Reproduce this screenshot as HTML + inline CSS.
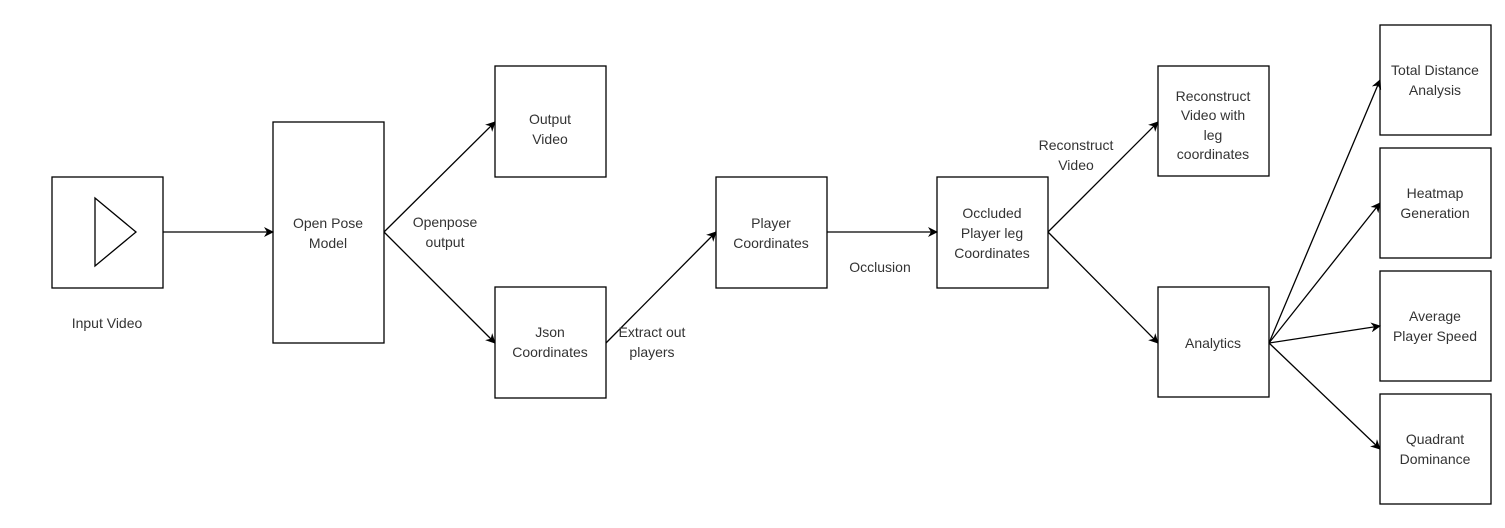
<!DOCTYPE html>
<html><head><style>
html,body{margin:0;padding:0;background:#fff;}
svg{display:block;}
text{font-family:"Liberation Sans",Arial,sans-serif;font-size:14px;fill:#333;text-anchor:middle;}
</style></head><body>
<svg width="1505" height="528" viewBox="0 0 1505 528">
<defs><marker id="a" markerWidth="10" markerHeight="10" refX="9" refY="5" orient="auto" markerUnits="userSpaceOnUse"><path d="M0,0 L10,5 L0,10 L3,5 Z" fill="#000"/></marker></defs>
<g fill="#fff" stroke="#000" stroke-width="1.3">
<rect x="52" y="177" width="111" height="111"/>
<polygon points="95,198 136,232 95,266" fill="none"/>
<rect x="273" y="122" width="111" height="221"/>
<rect x="495" y="66" width="111" height="111"/>
<rect x="495" y="287" width="111" height="111"/>
<rect x="716" y="177" width="111" height="111"/>
<rect x="937" y="177" width="111" height="111"/>
<rect x="1158" y="66" width="111" height="110"/>
<rect x="1158" y="287" width="111" height="110"/>
<rect x="1380" y="25" width="111" height="110"/>
<rect x="1380" y="148" width="111" height="110"/>
<rect x="1380" y="271" width="111" height="110"/>
<rect x="1380" y="394" width="111" height="110"/>
</g>
<g stroke="#000" stroke-width="1.3" fill="none" marker-end="url(#a)">
<line x1="163" y1="232" x2="273" y2="232"/>
<line x1="384" y1="232" x2="495" y2="122"/>
<line x1="384" y1="232" x2="495" y2="343"/>
<line x1="606" y1="343" x2="716" y2="232"/>
<line x1="827" y1="232" x2="937" y2="232"/>
<line x1="1048" y1="232" x2="1158" y2="122"/>
<line x1="1048" y1="232" x2="1158" y2="343"/>
<line x1="1269" y1="343" x2="1380" y2="80"/>
<line x1="1269" y1="343" x2="1380" y2="203"/>
<line x1="1269" y1="343" x2="1380" y2="326"/>
<line x1="1269" y1="343" x2="1380" y2="449"/>
</g>
<text x="107" y="328">Input Video</text>
<text x="328" y="228">Open Pose</text><text x="328" y="248">Model</text>
<text x="550" y="124">Output</text><text x="550" y="144">Video</text>
<text x="550" y="337">Json</text><text x="550" y="357">Coordinates</text>
<text x="771" y="228">Player</text><text x="771" y="248">Coordinates</text>
<text x="992" y="218">Occluded</text><text x="992" y="238">Player leg</text><text x="992" y="258">Coordinates</text>
<text x="1213" y="101">Reconstruct</text><text x="1213" y="120">Video with</text><text x="1213" y="140">leg</text><text x="1213" y="159">coordinates</text>
<text x="1213" y="348">Analytics</text>
<text x="1435" y="75">Total Distance</text><text x="1435" y="95">Analysis</text>
<text x="1435" y="198">Heatmap</text><text x="1435" y="218">Generation</text>
<text x="1435" y="321">Average</text><text x="1435" y="341">Player Speed</text>
<text x="1435" y="444">Quadrant</text><text x="1435" y="464">Dominance</text>
<text x="445" y="227">Openpose</text><text x="445" y="247">output</text>
<text x="652" y="337">Extract out</text><text x="652" y="357">players</text>
<text x="880" y="272">Occlusion</text>
<text x="1076" y="150">Reconstruct</text><text x="1076" y="170">Video</text>
</svg>
</body></html>
